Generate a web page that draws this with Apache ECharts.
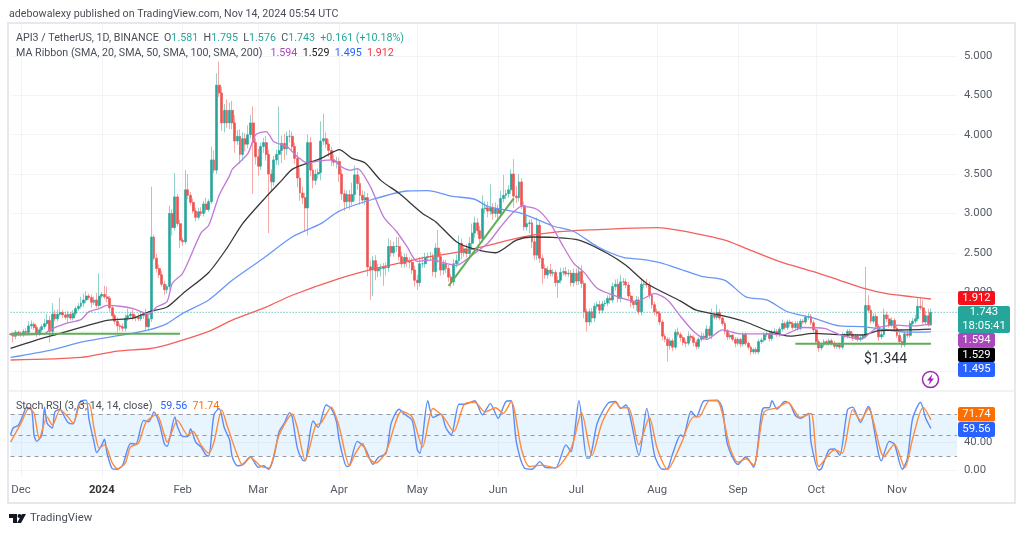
<!DOCTYPE html>
<html><head><meta charset="utf-8">
<style>html,body{margin:0;padding:0;background:#fff}#c{width:1024px;height:533px}</style>
<script src="https://cdn.jsdelivr.net/npm/echarts@6/dist/echarts.min.js"></script>
</head><body><div id="c"></div>
<script>
const closes=[
1.46,1.44,1.49,1.47,1.46,1.50,1.49,1.57,1.59,1.55,
1.47,1.52,1.56,1.60,1.64,1.50,1.72,1.66,1.72,1.74,
1.71,1.68,1.72,1.67,1.73,1.79,1.82,1.86,1.90,1.95,
1.93,1.87,1.90,1.83,1.95,1.97,1.94,1.92,1.80,1.70,
1.63,1.57,1.56,1.54,1.67,1.70,1.72,1.67,1.68,1.66,
1.70,1.72,1.56,1.66,2.70,2.43,2.30,2.22,2.10,2.03,
2.07,3.00,2.82,3.21,2.87,2.66,2.64,3.30,3.23,3.14,
3.03,2.95,3.02,3.00,3.12,3.05,3.15,3.68,3.55,4.63,
4.53,4.15,4.31,4.15,4.31,4.15,3.92,3.98,3.75,3.95,
3.88,4.00,4.15,3.90,3.72,3.60,3.85,3.90,3.75,3.50,
3.40,3.68,3.75,3.80,3.89,3.82,3.98,3.98,3.85,3.70,
3.45,3.26,3.20,3.07,3.90,3.55,3.42,3.50,3.52,3.92,
3.95,3.88,3.80,3.68,3.65,3.66,3.50,3.25,3.15,3.24,
3.15,3.24,3.49,3.38,3.23,3.17,3.20,2.32,2.28,2.40,
2.27,2.30,2.30,2.32,2.31,2.58,2.50,2.58,2.58,2.45,
2.36,2.44,2.40,2.38,2.28,2.15,2.12,2.36,2.36,2.44,
2.45,2.45,2.26,2.56,2.45,2.28,2.36,2.30,2.19,2.13,
2.36,2.40,2.62,2.50,2.55,2.49,2.62,2.75,2.88,2.78,
2.68,3.06,3.07,3.03,3.07,3.00,3.06,3.00,3.19,3.23,
3.25,3.30,3.50,3.22,3.20,3.40,3.10,2.83,2.87,2.88,
2.64,2.47,2.85,2.43,2.30,2.22,2.28,2.24,2.25,2.12,
2.15,2.25,2.26,2.23,2.24,2.12,2.24,2.14,2.26,2.11,
1.75,1.62,1.75,1.67,1.82,1.84,1.77,1.85,1.86,1.92,
1.90,2.07,2.10,1.92,2.13,2.13,2.09,1.95,1.87,1.84,
1.90,1.75,2.10,2.10,2.09,1.96,1.84,1.75,1.73,1.62,
1.44,1.40,1.32,1.38,1.30,1.49,1.46,1.42,1.36,1.35,
1.44,1.42,1.36,1.31,1.40,1.44,1.42,1.53,1.45,1.71,
1.68,1.74,1.67,1.60,1.50,1.43,1.45,1.40,1.35,1.40,
1.34,1.46,1.35,1.30,1.24,1.27,1.24,1.37,1.39,1.46,
1.47,1.41,1.49,1.50,1.46,1.53,1.60,1.55,1.62,1.60,
1.55,1.60,1.54,1.63,1.62,1.68,1.69,1.61,1.52,1.37,
1.29,1.33,1.37,1.35,1.38,1.35,1.31,1.33,1.30,1.45,
1.44,1.50,1.46,1.42,1.44,1.40,1.42,1.44,1.83,1.77,
1.63,1.69,1.56,1.43,1.46,1.71,1.66,1.58,1.64,1.54,
1.45,1.37,1.33,1.47,1.45,1.60,1.63,1.66,1.82,1.80,
1.62,1.70,1.581,1.743];
const firstOpen=1.47;
const wickUp=[
3,3,3,2,3,3,4,6,5,3,
3,3,3,6,8,6,14,5,6,19,
3,4,4,3,4,3,4,8,8,6,
3,4,4,9,29,3,11,13,3,3,
3,5,3,4,5,9,3,6,3,5,
4,3,7,6,64,3,6,5,5,4,
3,10,5,30,4,5,3,25,20,4,
5,4,5,6,4,8,3,17,12,15,
30,8,8,14,10,12,10,8,9,8,
7,12,10,21,6,10,5,6,8,6,
6,5,6,56,10,12,6,8,6,5,
8,12,8,6,10,7,8,6,5,25,
32,8,6,5,7,6,5,6,5,5,
6,15,12,8,9,6,8,6,8,6,
7,6,6,5,6,10,8,6,12,12,
6,5,5,4,5,6,7,8,9,6,
5,6,4,6,23,6,5,5,5,4,
6,8,10,6,5,6,8,12,8,6,
6,17,8,8,30,6,8,5,10,26,
5,6,6,19,13,10,5,5,10,4,
5,5,10,6,5,5,5,8,4,3,
5,6,5,6,5,4,6,6,7,8,
4,4,4,5,4,4,5,4,4,4,
4,5,6,7,9,5,4,4,5,3,
5,4,8,5,7,4,3,4,4,3,
3,3,3,4,3,4,6,3,3,3,
6,3,3,3,3,5,4,5,4,8,
4,10,4,3,3,3,3,2,3,3,
2,3,3,2,2,2,3,3,3,3,
3,4,3,4,3,3,5,3,3,3,
3,3,3,3,3,3,4,3,3,2,
3,3,3,2,3,3,3,2,3,4,
3,3,3,3,3,3,3,3,49,13,
6,4,4,3,4,8,4,5,4,3,
4,4,4,3,6,4,4,5,10,12,
10,6,9,5.2];
const wickDown=[
5,8,4,3,3,3,3,3,4,3,
4,3,3,3,3,14,6,3,3,3,
4,3,7,3,3,3,3,3,5,4,
3,7,3,3,3,3,3,5,5,4,
4,8,5,4,4,4,3,3,4,3,
3,4,4,5,4,3,5,4,3,7,
5,4,10,4,3,10,5,3,5,4,
3,5,3,3,4,4,3,3,4,5,
5,10,12,6,8,8,15,5,12,8,
9,5,5,65,10,12,5,8,8,75,
12,5,6,14,16,14,8,8,6,7,
12,10,8,30,35,8,10,6,6,10,
5,5,8,8,5,8,10,8,12,8,
10,5,8,8,12,5,6,12,38,33,
12,8,10,22,10,5,5,5,7,5,
5,5,8,8,5,8,9,5,5,5,
5,5,6,8,8,7,6,6,6,7,
5,5,5,8,5,5,5,8,6,5,
5,5,6,8,5,8,5,7,5,5,
5,5,5,15,7,5,5,5,5,12,
8,6,6,6,20,5,5,4,4,5,
19,4,4,3,4,5,5,5,5,6,
8,12,5,6,5,4,5,4,4,4,
5,4,5,5,5,5,4,4,6,5,
8,4,5,5,4,5,5,4,4,4,
5,4,20,5,5,3,3,5,4,5,
3,4,5,4,3,3,3,3,4,5,
3,3,3,3,4,4,3,3,5,3,
4,3,3,3,4,3,3,3,3,3,
3,4,3,3,3,3,3,3,3,4,
3,3,3,3,3,3,3,3,3,3,
5,3,3,3,3,3,3,3,3,3,
3,3,3,4,3,3,3,3,3,3,
3,3,3,5,3,3,4,3,3,4,
3,3,4,3,3,3,3,3,3,3,
3,3,2,0.5];

const ma200Days=[0,27,41,53,60,76,85,98,108,126,140,150,159,172,184,196,208,222,248,257,274,282,295,308,318,327,336,346,353];
const ma200=[1.137,1.17,1.25,1.28,1.33,1.50,1.645,1.81,1.96,2.17,2.30,2.374,2.44,2.51,2.60,2.70,2.76,2.79,2.82,2.78,2.66,2.556,2.387,2.26,2.15,2.05,1.98,1.94,1.912];
const ma100Days=[0,15,28,42,53,60,66,76,85,97,108,119,126,139,152,160,169,178,183,196,208,216,225,235,242,249,257,265,274,282,290,298,308,318,327,336,344,353];
const ma100=[1.17,1.26,1.37,1.45,1.52,1.60,1.73,1.90,2.15,2.43,2.70,2.87,3.03,3.18,3.285,3.29,3.22,3.18,3.09,3.0,2.84,2.77,2.58,2.44,2.415,2.374,2.29,2.20,2.15,1.94,1.90,1.75,1.67,1.57,1.56,1.52,1.49,1.495];
const ma50Days=[0,9,19,29,37,47,53,60,66,76,83,89,98,104,108,114,119,124,126,131,136,142,149,158,163,171,177,186,194,200,208,218,229,236,244,257,263,273,282,291,299,308,318,327,333,344,353];
const ma50=[1.285,1.38,1.475,1.57,1.64,1.67,1.75,1.81,1.98,2.25,2.56,2.87,3.21,3.42,3.56,3.64,3.70,3.785,3.81,3.70,3.64,3.42,3.255,3.0,2.895,2.64,2.555,2.50,2.66,2.70,2.695,2.66,2.49,2.34,2.11,1.885,1.77,1.70,1.62,1.50,1.44,1.475,1.46,1.455,1.51,1.52,1.529];
const ma20Days=[0,13,15,21,27,30,34,37,42,47,53,56,60,62,66,73,76,80,84,85,91,94,98,101,106,110,114,119,124,126,130,133,138,143,148,152,156,162,167,171,177,183,188,193,196,202,207,212,216,220,225,233,240,247,252,257,262,267,273,280,285,291,296,304,312,318,326,332,339,346,353];
const ma20=[1.455,1.47,1.52,1.60,1.65,1.75,1.79,1.83,1.82,1.79,1.72,1.81,1.88,2.11,2.24,2.75,2.85,3.23,3.48,3.56,3.76,4.0,4.04,3.91,3.85,3.72,3.64,3.67,3.68,3.61,3.55,3.57,3.34,2.96,2.77,2.58,2.39,2.41,2.365,2.34,2.47,2.62,2.83,3.02,3.09,3.05,2.87,2.58,2.365,2.25,2.05,1.94,1.88,1.98,1.90,1.69,1.50,1.40,1.52,1.47,1.47,1.47,1.455,1.55,1.54,1.46,1.40,1.54,1.58,1.57,1.594];

const kDays=[0,1,3,5,6,8,9,10,12,13,14,16,17,19,20,22,24,26,27,29,30,32,33,35,36,37,39,41,43,46,48,51,53,55,57,59,60,63,64,66,68,69,71,73,75,76,78,80,82,84,85,87,89,92,95,97,99,101,103,105,107,108,110,112,113,114,116,118,121,123,125,126,128,129,130,133,136,139,141,144,146,149,151,154,156,157,160,162,165,167,169,172,174,178,181,184,187,190,192,194,197,200,203,205,209,213,215,218,221,222,225,229,232,234,236,241,244,247,250,252,254,257,258,261,263,266,271,273,275,279,282,285,288,289,291,292,294,297,299,301,303,306,307,310,311,314,316,318,321,323,326,329,330,334,337,339,342,344,346,349,351,353];
const stochK=[50,60,64,81,89,87,50,41,50,90,67,60,83,87,81,68,66,93,99,100,74,40,25,36,44,24,2,1,7,38,37,71,69,83,67,37,34,76,62,48,48,59,40,33,21,20,79,88,60,43,19,6,8,19,4,6,1,19,55,67,82,76,31,14,13,31,70,61,93,88,69,43,12,5,6,41,31,8,18,24,67,87,80,71,29,24,99,75,80,60,50,94,94,99,79,95,74,98,99,40,3,1,12,4,3,36,26,99,17,17,67,95,98,88,93,21,88,21,1,2,24,50,48,84,76,99,100,88,36,8,19,4,81,89,89,99,87,98,94,78,74,81,40,0,2,29,30,21,86,90,68,91,83,13,41,37,1,17,74,97,74,59.56];
const dDays=[0,4,7,9,11,14,16,19,22,24,27,30,32,34,36,37,39,41,44,46,49,52,56,59,60,64,68,70,73,76,78,81,83,87,89,92,96,99,103,108,110,113,117,119,123,126,130,132,135,137,140,144,150,154,158,162,166,170,174,178,182,186,189,192,196,199,204,209,215,219,223,227,232,234,237,241,245,248,252,257,262,264,268,271,276,279,282,285,289,294,298,303,307,310,316,319,323,326,329,335,339,343,346,350,353];
const stochD=[40,67,88,81,45,76,64,86,76,67,95,95,60,31,36,31,10,2,10,33,38,69,79,50,40,71,50,55,36,24,40,86,64,21,7,18,5,3,50,80,60,14,64,67,90,62,6,22,38,19,10,26,84,76,33,88,76,55,94,97,83,89,81,98,29,5,7,3,31,82,21,69,97,89,89,36,75,31,1,36,76,76,99,99,31,11,16,7,83,89,97,75,81,5,29,24,86,71,88,19,37,3,45,90,71.74];

const supportFlat1=[[0,1.47],[65,1.47]];
const supportRise=[[168,2.08],[193,3.19]];
const supportFlat2=[[301,1.344],[353,1.344]];
const lastPrice=1.743;
const monthDays=[4,35,66,95,126,156,187,217,248,279,309,340];
const monthLabels=['Dec','2024','Feb','Mar','Apr','May','Jun','Jul','Aug','Sep','Oct','Nov'];
const priceTicks=[1,1.5,2,2.5,3,3.5,4,4.5,5];
const stochTicks=[0,40];
const barCount=364;

const opens=closes.map((c,i)=>i?closes[i-1]:firstOpen);
const cats=Array.from({length:barCount},(_,i)=>'d'+i);
const pairs=(d,v)=>d.map((x,i)=>[x,v[i]]);
const wickData=closes.map((c,i)=>{const o=opens[i];return [o,c,+(Math.min(o,c)-wickDown[i]/100).toFixed(3),+(Math.max(o,c)+wickUp[i]/100).toFixed(3)];});
const bodyData=closes.map((c,i)=>{const o=opens[i];return [o,c,Math.min(o,c),Math.max(o,c)];});

const UP='#26a69a',DN='#ef5350',GRID='#f3f4f8',TXT='#555b66';
const FF='Roboto,sans-serif',FS='10.7px ',FT='11.3px ';
const isMonth=(i)=>monthDays.includes(i);
const line=(name,d,v,color,w,xi,yi,z)=>({name,type:'line',xAxisIndex:xi,yAxisIndex:yi,data:pairs(d,v),showSymbol:false,symbol:'none',smooth:0.25,lineStyle:{color,width:w},z:z||5,silent:true,animation:false,clip:true});
const tag=(y,h,w,fill,t)=>[{type:'rect',shape:{x:958,y,width:w,height:h,r:2},style:{fill},z:100},
 {type:'text',x:958+w/2,y:y+h/2,style:{text:t,fill:'#fff',font:FT+FF,textAlign:'center',textVerticalAlign:'middle'},z:101}];

const chart=echarts.init(document.getElementById('c'),null,{renderer:'canvas'});
chart.setOption({
 animation:false,backgroundColor:'#fff',
 grid:[{left:10.6,top:23,width:946.4,height:368},{left:10.6,top:391,width:946.4,height:86}],
 xAxis:[
  {type:'category',gridIndex:0,data:cats,boundaryGap:false,axisLine:{show:false},axisTick:{show:false},axisLabel:{show:false},
   splitLine:{show:true,interval:(i)=>isMonth(i),lineStyle:{color:GRID,width:1}}},
  {type:'category',gridIndex:1,data:cats,boundaryGap:false,axisLine:{show:false},axisTick:{show:false},
   axisLabel:{show:true,interval:(i)=>isMonth(i),hideOverlap:false,margin:8,color:TXT,fontFamily:'Roboto',fontSize:11.3,
     formatter:(v)=>{const l=monthLabels[monthDays.indexOf(+v.slice(1))];return l==='2024'?'{b|2024}':l;},rich:{b:{fontWeight:'bold',color:'#333',fontSize:11.3,fontFamily:'Roboto'}}},
   splitLine:{show:true,interval:(i)=>isMonth(i),lineStyle:{color:GRID,width:1}}}
 ],
 yAxis:[
  {type:'value',gridIndex:0,position:'right',min:0.743,max:5.42,axisLine:{show:false},
   axisTick:{show:false,customValues:priceTicks},
   axisLabel:{customValues:priceTicks,formatter:(v)=>v.toFixed(3),color:TXT,fontFamily:'Roboto',fontSize:11.3,margin:7},
   splitLine:{show:true,lineStyle:{color:GRID,width:1}}},
  {type:'value',gridIndex:1,position:'right',min:-10,max:113,axisLine:{show:false},
   axisTick:{show:false,customValues:stochTicks},
   axisLabel:{customValues:stochTicks,formatter:(v)=>v.toFixed(2),color:TXT,fontFamily:'Roboto',fontSize:11.3,margin:7},
   splitLine:{show:true,lineStyle:{color:GRID,width:1}}}
 ],
 series:[
  {name:'last',type:'line',xAxisIndex:0,yAxisIndex:0,data:[[0,lastPrice],[barCount-1,lastPrice]],symbol:'none',lineStyle:{color:UP,width:1,type:[1,2]},z:1,silent:true},
  {name:'wicks',type:'candlestick',xAxisIndex:0,yAxisIndex:0,data:wickData,barWidth:1,z:2,silent:true,
   itemStyle:{color:'rgba(38,166,154,.5)',color0:'rgba(239,83,80,.5)',borderColor:'rgba(38,166,154,.5)',borderColor0:'rgba(239,83,80,.5)',borderWidth:1}},
  {name:'bodies',type:'candlestick',xAxisIndex:0,yAxisIndex:0,data:bodyData,barWidth:2.4,z:3,silent:true,
   itemStyle:{color:UP,color0:DN,borderColor:UP,borderColor0:DN,borderWidth:0.6}},
  line('MA200',ma200Days,ma200,'#f4605c',1.3,0,0),
  line('MA100',ma100Days,ma100,'#6a97f6',1.3,0,0),
  line('MA50',ma50Days,ma50,'#383838',1.3,0,0),
  line('MA20',ma20Days,ma20,'#c07ad6',1.3,0,0),
  {name:'s1',type:'line',xAxisIndex:0,yAxisIndex:0,data:supportFlat1,symbol:'none',lineStyle:{color:'#5fae57',width:2},z:6,silent:true},
  {name:'s2',type:'line',xAxisIndex:0,yAxisIndex:0,data:supportRise,symbol:'none',lineStyle:{color:'#5fae57',width:2},z:6,silent:true},
  {name:'s3',type:'line',xAxisIndex:0,yAxisIndex:0,data:supportFlat2,symbol:'none',lineStyle:{color:'#5fae57',width:2},z:6,silent:true},
  Object.assign(line('%K',kDays,stochK,'#5c8df6',1.4,1,1),{
   markArea:{silent:true,itemStyle:{color:'rgba(33,150,243,.1)'},data:[[{yAxis:20},{yAxis:80}]]},
   markLine:{silent:true,symbol:'none',label:{show:false},lineStyle:{color:'#9598a1',type:[4,4],width:1},data:[{yAxis:20},{yAxis:50},{yAxis:80}]}}),
  line('%D',dDays,stochD,'#ff8a3c',1.4,1,1,6)
 ],
 graphic:[
  {type:'rect',shape:{x:8,y:23,width:1007,height:480},style:{fill:'none',stroke:'#e6e8ee',lineWidth:2},z:50},
  {type:'line',shape:{x1:9,y1:391,x2:1015,y2:391},style:{stroke:'#eceef3',lineWidth:1.5},z:50},
  {type:'text',x:9,y:14,style:{text:'adebowalexy published on TradingView.com, Nov 14, 2024 05:54 UTC',fill:'#4a4e58',font:FS+FF,textVerticalAlign:'middle'},z:60},
  {type:'text',x:16,y:38,z:60,style:{textVerticalAlign:'middle',rich:{a:{fill:'#4a4e58',font:FS+FF},g:{fill:UP,font:FS+FF}},
    text:'{a|API3 / TetherUS, 1D, BINANCE  O}{g|1.581}{a|  H}{g|1.795}{a|  L}{g|1.576}{a|  C}{g|1.743}{g|  +0.161 (+10.18%)}'}},
  {type:'text',x:16,y:53,z:60,style:{textVerticalAlign:'middle',rich:{a:{fill:'#4a4e58',font:FS+FF},p:{fill:'#ab47bc',font:FS+FF},k:{fill:'#222',font:FS+FF},b:{fill:'#2962ff',font:FS+FF},r:{fill:'#f23645',font:FS+FF}},
    text:'{a|MA Ribbon (SMA, 20, SMA, 50, SMA, 100, SMA, 200)   }{p|1.594}{k|  1.529}{b|  1.495}{r|  1.912}'}},
  {type:'text',x:16,y:406,z:60,style:{textVerticalAlign:'middle',rich:{a:{fill:'#4a4e58',font:FS+FF},b:{fill:'#2962ff',font:FS+FF},o:{fill:'#ff6d00',font:FS+FF}},
    text:'{a|Stoch RSI (3, 3, 14, 14, close)   }{b|59.56}{o|  71.74}'}},
  {type:'text',x:864,y:359,z:60,style:{text:'$1.344',fill:'#2a2e39',font:'14px '+FF,textVerticalAlign:'middle'}},
  ...tag(291,14,37,'#f7101a','1.912'),
  {type:'rect',shape:{x:958,y:306,width:52,height:27,r:2},style:{fill:'#26a69a'},z:100},
  {type:'text',x:984,y:312.5,style:{text:'1.743',fill:'#fff',font:FT+FF,textAlign:'center',textVerticalAlign:'middle'},z:101},
  {type:'text',x:984,y:326,style:{text:'18:05:41',fill:'#fff',font:FT+FF,textAlign:'center',textVerticalAlign:'middle'},z:101},
  ...tag(333,14,37,'#ab47bc','1.594'),
  ...tag(347.5,14.5,37,'#000','1.529'),
  ...tag(362,15,37,'#2962ff','1.495'),
  ...tag(407,14.5,37,'#ff6d00','71.74'),
  ...tag(422,15,37,'#2962ff','59.56'),
  {type:'circle',shape:{cx:930.5,cy:379.5,r:8},style:{fill:'#fff',stroke:'#9c27b0',lineWidth:1.5},z:70},
  {type:'polygon',shape:{points:[[932.5,374],[927,380.5],[930,380.5],[928.5,385],[934,378.5],[931,378.5]]},style:{fill:'#9c27b0'},z:71},
  {type:'polygon',shape:{points:[[9,514],[17,514],[17,523],[13,523],[13,518],[9,518]]},style:{fill:'#131722'},z:60},
  {type:'circle',shape:{cx:19.5,cy:516,r:2},style:{fill:'#131722'},z:60},
  {type:'polygon',shape:{points:[[22,514],[26,514],[21,523],[17,523]]},style:{fill:'#131722'},z:60},
  {type:'text',x:30,y:518.5,style:{text:'TradingView',fill:'#4a4e58',font:FT+FF,textVerticalAlign:'middle'},z:60}
 ]
});
</script></body></html>
